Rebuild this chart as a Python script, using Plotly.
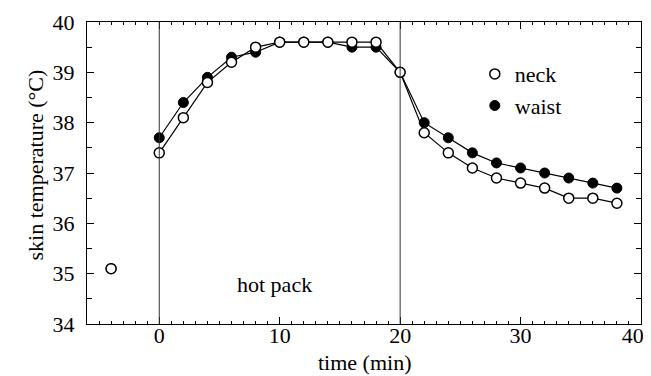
import plotly.graph_objects as go

# data
time_min = [-4, -2, 0, 2, 4, 6, 8, 10, 12, 14, 16, 18, 20, 22, 24, 26, 28, 30, 32, 34, 36, 38]
neck = [35.1, None, 37.4, 38.1, 38.8, 39.2, 39.5, 39.6, 39.6, 39.6, 39.6, 39.6, 39.0,
        37.8, 37.4, 37.1, 36.9, 36.8, 36.7, 36.5, 36.5, 36.4]
waist = [35.1, None, 37.7, 38.4, 38.9, 39.3, 39.4, 39.6, 39.6, 39.6, 39.5, 39.5, 39.0,
         38.0, 37.7, 37.4, 37.2, 37.1, 37.0, 36.9, 36.8, 36.7]
period_bounds = [0, 20]
x_ticks = [0, 10, 20, 30, 40]
x_tick_labels = ["0", "10", "20", "30", "40\u00a0\u00a0\u00a0"]
y_ticks = [34, 35, 36, 37, 38, 39, 40]

FONT = "Liberation Serif, Times New Roman, serif"
FS = 22

fig = go.Figure()
fig.add_trace(go.Scatter(
    x=time_min, y=waist, name="waist", mode="lines+markers", connectgaps=False,
    showlegend=False,
    line=dict(color="black", width=1.2),
    marker=dict(symbol="circle", size=10, color="black", line=dict(color="black", width=1)),
))
fig.add_trace(go.Scatter(
    x=time_min, y=neck, name="neck", mode="lines+markers", connectgaps=False,
    showlegend=False,
    line=dict(color="black", width=1.2),
    marker=dict(symbol="circle", size=10, color="white", line=dict(color="black", width=1.5)),
))
# legend entries (markers only)
fig.add_trace(go.Scatter(
    x=[None], y=[None], name="neck", mode="markers",
    marker=dict(symbol="circle", size=10, color="white", line=dict(color="black", width=1.5)),
))
fig.add_trace(go.Scatter(
    x=[None], y=[None], name="waist", mode="markers",
    marker=dict(symbol="circle", size=10, color="black", line=dict(color="black", width=1)),
))

for xb in period_bounds:
    fig.add_vline(x=xb, line=dict(color="#333333", width=1))

fig.add_annotation(x=9.6, y=34.78, text="hot pack", showarrow=False,
                   font=dict(family=FONT, size=FS, color="black"))

# axis titles as annotations for precise placement
fig.add_annotation(xref="paper", yref="paper", x=0.5, y=0, yshift=-38, yanchor="middle",
                   text="time (min)", showarrow=False,
                   font=dict(family=FONT, size=FS, color="black"))
fig.add_annotation(xref="paper", yref="paper", x=0, xshift=-67, y=0.5, yshift=8,
                   textangle=-90, text="skin temperature (°C)", showarrow=False,
                   font=dict(family=FONT, size=FS, color="black"))

axis_common = dict(
    showgrid=False, zeroline=False, showline=True, linecolor="black", linewidth=1,
    mirror="ticks", ticks="inside", ticklen=7, tickcolor="black", tickwidth=1,
    tickfont=dict(family=FONT, size=FS, color="black"),
)

fig.update_xaxes(
    range=[-6, 40], tickvals=x_ticks, ticktext=x_tick_labels,
    ticklabelstandoff=-8, ticklabeloverflow="allow",
    minor=dict(dtick=1, ticks="inside", ticklen=3, tickcolor="black", showgrid=False),
    **axis_common,
)
fig.update_yaxes(
    range=[34, 40], tickvals=y_ticks, ticklabelstandoff=7,
    minor=dict(dtick=0.5, ticks="inside", ticklen=5, tickcolor="black", showgrid=False),
    **axis_common,
)

fig.update_layout(
    width=643, height=368,
    margin=dict(l=79, r=10, t=14, b=52, autoexpand=False),
    plot_bgcolor="white", paper_bgcolor="white",
    font=dict(family=FONT, size=FS, color="black"),
    legend=dict(x=0.70, y=0.897, xanchor="left", yanchor="top", bgcolor="rgba(0,0,0,0)",
                font=dict(family=FONT, size=FS), itemwidth=30, tracegroupgap=0),
    showlegend=True,
)

fig.write_html("out.html")
